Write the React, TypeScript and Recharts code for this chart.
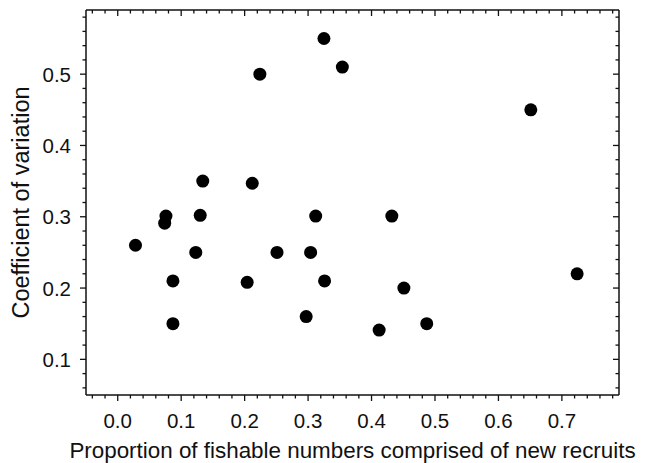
import { ScatterChart, Scatter, XAxis, YAxis, Label } from 'recharts'

// proportion of fishable numbers comprised of new recruits
const recruitProportion = [
  0.325, 0.354, 0.224, 0.651, 0.134, 0.212, 0.028, 0.076, 0.074, 0.13, 0.123, 0.087,
  0.087, 0.204, 0.251, 0.304, 0.312, 0.326, 0.297, 0.432, 0.451, 0.412, 0.487, 0.724,
]
// coefficient of variation
const cvValues = [
  0.55, 0.51, 0.5, 0.45, 0.35, 0.347, 0.26, 0.301, 0.291, 0.302, 0.25, 0.21,
  0.15, 0.208, 0.25, 0.25, 0.301, 0.21, 0.16, 0.301, 0.2, 0.141, 0.15, 0.22,
]

const xTicks = [
  -0.04, -0.02, 0, 0.02, 0.04, 0.06, 0.08, 0.1, 0.12, 0.14, 0.16, 0.18, 0.2, 0.22, 0.24,
  0.26, 0.28, 0.3, 0.32, 0.34, 0.36, 0.38, 0.4, 0.42, 0.44, 0.46, 0.48, 0.5, 0.52, 0.54,
  0.56, 0.58, 0.6, 0.62, 0.64, 0.66, 0.68, 0.7, 0.72, 0.74, 0.76, 0.78,
]
const yTicks = [
  0.06, 0.08, 0.1, 0.12, 0.14, 0.16, 0.18, 0.2, 0.22, 0.24, 0.26, 0.28, 0.3, 0.32, 0.34,
  0.36, 0.38, 0.4, 0.42, 0.44, 0.46, 0.48, 0.5, 0.52, 0.54, 0.56, 0.58,
]

const data = recruitProportion.map((x, i) => ({ x, y: cvValues[i] }))

const INK = '#111'
const FONT = 'Liberation Sans, Arial, sans-serif'
const isMajor = (v: number) => Math.round(v * 100) % 10 === 0

function BottomTick(props: any) {
  const { x, y, payload } = props
  const major = isMajor(payload.value)
  return (
    <g>
      <line x1={x} x2={x} y1={y} y2={y + (major ? 6 : 3.5)} stroke={INK} strokeWidth={1.3} />
      {major && (
        <text x={x} y={y + 33} textAnchor="middle" fontSize={20.5} fill={INK} fontFamily={FONT}>
          {payload.value.toFixed(1)}
        </text>
      )}
    </g>
  )
}

function TopTick(props: any) {
  const { x, y, payload } = props
  const major = isMajor(payload.value)
  return <line x1={x} x2={x} y1={y} y2={y + (major ? 6 : 3.5)} stroke={INK} strokeWidth={1.3} />
}

function LeftTick(props: any) {
  const { x, y, payload } = props
  const major = isMajor(payload.value)
  return (
    <g>
      <line x1={x} x2={x - (major ? 6 : 3.5)} y1={y} y2={y} stroke={INK} strokeWidth={1.3} />
      {major && (
        <text x={x - 15} y={y + 7.5} textAnchor="end" fontSize={20.5} fill={INK} fontFamily={FONT}>
          {payload.value.toFixed(1)}
        </text>
      )}
    </g>
  )
}

function RightTick(props: any) {
  const { x, y, payload } = props
  const major = isMajor(payload.value)
  return <line x1={x} x2={x - (major ? 6 : 3.5)} y1={y} y2={y} stroke={INK} strokeWidth={1.3} />
}

export default function App() {
  return (
    <div style={{ position: 'absolute', left: 0, top: 0, background: '#fff' }}>
      <ScatterChart width={646} height={463} margin={{ top: 9, right: 26, bottom: 0, left: 0 }}>
        <XAxis
          xAxisId="bottom"
          type="number"
          dataKey="x"
          domain={[-0.05, 0.79]}
          ticks={xTicks}
          interval={0}
          allowDataOverflow
          height={68}
          tickSize={0}
          tickMargin={0}
          tickLine={false}
          axisLine={{ stroke: INK, strokeWidth: 1.5 }}
          tick={<BottomTick />}
        >
          <Label
            content={({ viewBox }: any) => (
              <text
                x={viewBox.x + viewBox.width / 2}
                y={viewBox.y + 63}
                textAnchor="middle"
                fontSize={22.4}
                fill={INK}
                fontFamily={FONT}
              >
                Proportion of fishable numbers comprised of new recruits
              </text>
            )}
          />
        </XAxis>
        <XAxis
          xAxisId="top"
          orientation="top"
          type="number"
          dataKey="x"
          domain={[-0.05, 0.79]}
          ticks={xTicks}
          interval={0}
          allowDataOverflow
          height={1}
          tickSize={0}
          tickMargin={0}
          tickLine={false}
          axisLine={{ stroke: INK, strokeWidth: 1.5 }}
          tick={<TopTick />}
        />
        <YAxis
          yAxisId="left"
          type="number"
          dataKey="y"
          domain={[0.05, 0.59]}
          ticks={yTicks}
          interval={0}
          allowDataOverflow
          width={86}
          tickSize={0}
          tickMargin={0}
          tickLine={false}
          axisLine={{ stroke: INK, strokeWidth: 1.5 }}
          tick={<LeftTick />}
        >
          <Label
            content={({ viewBox }: any) => {
              const cx = viewBox.x + 29
              const cy = viewBox.y + viewBox.height / 2
              return (
                <text
                  x={cx}
                  y={cy}
                  transform={`rotate(-90, ${cx}, ${cy})`}
                  textAnchor="middle"
                  fontSize={23.5}
                  fill={INK}
                  fontFamily={FONT}
                >
                  Coefficient of variation
                </text>
              )
            }}
          />
        </YAxis>
        <YAxis
          yAxisId="right"
          orientation="right"
          type="number"
          dataKey="y"
          domain={[0.05, 0.59]}
          ticks={yTicks}
          interval={0}
          allowDataOverflow
          width={1}
          tickSize={0}
          tickMargin={0}
          tickLine={false}
          axisLine={{ stroke: INK, strokeWidth: 1.5 }}
          tick={<RightTick />}
        />
        <Scatter
          data={data}
          xAxisId="bottom"
          yAxisId="left"
          fill="#000"
          isAnimationActive={false}
          shape={(p: any) => <circle cx={p.cx} cy={p.cy} r={6.5} fill="#000" />}
        />
      </ScatterChart>
    </div>
  )
}
